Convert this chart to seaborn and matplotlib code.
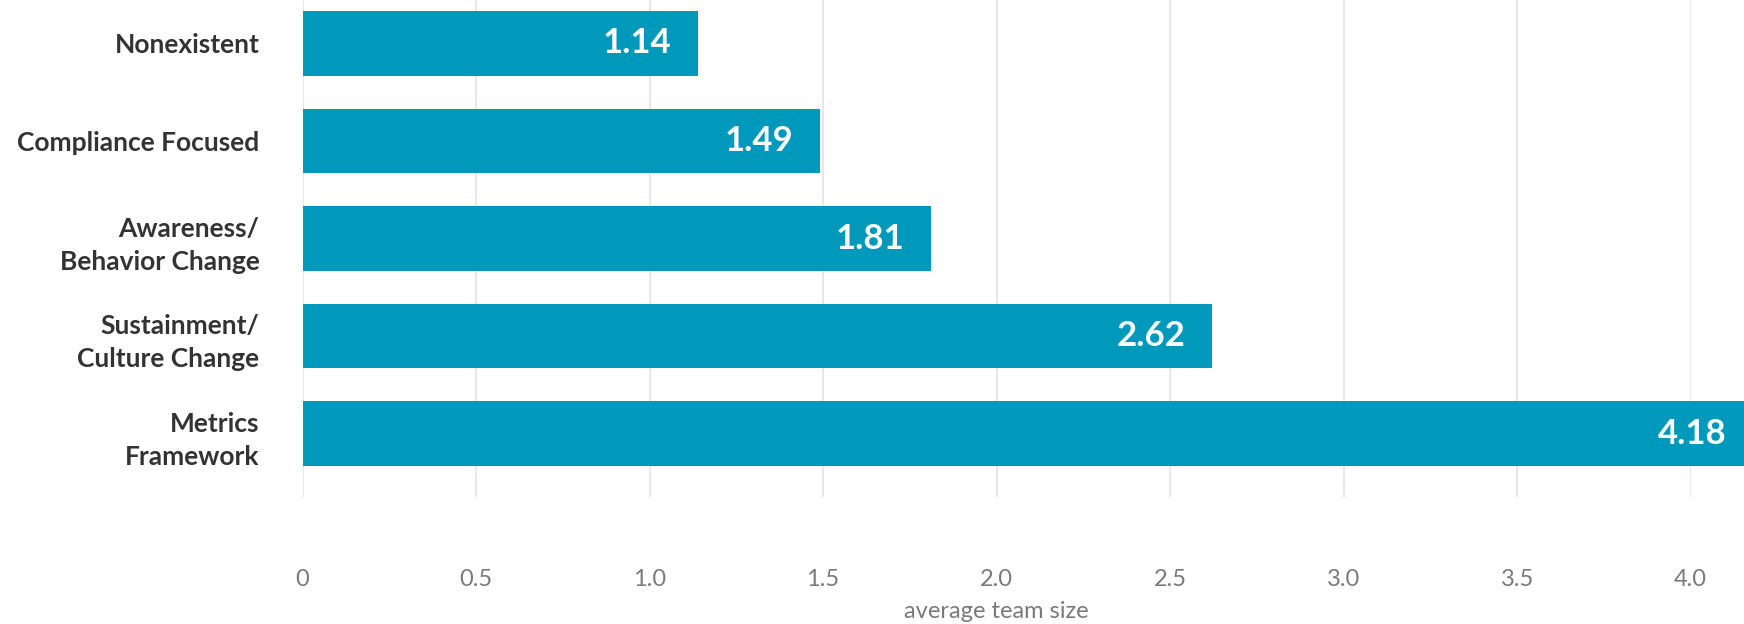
import matplotlib
matplotlib.use("Agg")
import matplotlib.pyplot as plt
import seaborn as sns
import pandas as pd

# Average team size by program maturity level
categories = [
    "Nonexistent",
    "Compliance Focused",
    "Awareness/\nBehavior Change",
    "Sustainment/\nCulture Change",
    "Metrics\nFramework",
]
team_size = [1.14, 1.49, 1.81, 2.62, 4.18]
x_ticks = [0, 0.5, 1.0, 1.5, 2.0, 2.5, 3.0, 3.5, 4.0]
x_tick_labels = ["0", "0.5", "1.0", "1.5", "2.0", "2.5", "3.0", "3.5", "4.0"]

BAR_COLOR = "#0099BC"
LABEL_COLOR = "#333333"
TICK_COLOR = "#7a7a7a"
GRID_COLOR = "#e3e3e3"

sns.set_theme(style="white")
plt.rcParams["font.family"] = ["Lato", "DejaVu Sans"]

df = pd.DataFrame({"level": categories, "size": team_size})

fig = plt.figure(figsize=(17.44, 6.24), dpi=100)
ax = fig.add_axes([302.5 / 1744, 1 - 497 / 624, (1690.6 - 302.5) / 1744, 497 / 624])

sns.barplot(data=df, y="level", x="size", color=BAR_COLOR, saturation=1,
            width=0.66, orient="h", ax=ax, zorder=2)

for p in ax.patches:
    p.set_clip_on(False)
    p.set_edgecolor("none")

ax.set_xlim(0, 4.0)
ax.set_ylim(4.65, -0.445)

ax.set_xticks(x_ticks)
ax.set_xticklabels(x_tick_labels)
ax.grid(axis="x", color=GRID_COLOR, linewidth=1.2, zorder=0)
ax.grid(axis="y", visible=False)
for s in ax.spines.values():
    s.set_visible(False)

ax.tick_params(axis="x", length=0, pad=52, labelsize=17, labelcolor=TICK_COLOR)
ax.tick_params(axis="y", length=0, pad=31, labelsize=19, labelcolor=LABEL_COLOR)
for t in ax.get_yticklabels():
    t.set_fontweight("bold")
    t.set_linespacing(1.45)

ax.set_ylabel("")
ax.set_xlabel("average team size", fontsize=17, color=TICK_COLOR, labelpad=8)

for i, v in enumerate(team_size):
    ax.annotate(f"{v:.2f}", xy=(v, i), xytext=(-19, 0), textcoords="offset points",
                ha="right", va="center", color="white", fontsize=25,
                fontweight="bold", annotation_clip=False, zorder=3)

fig.savefig("out.png", dpi=100)
